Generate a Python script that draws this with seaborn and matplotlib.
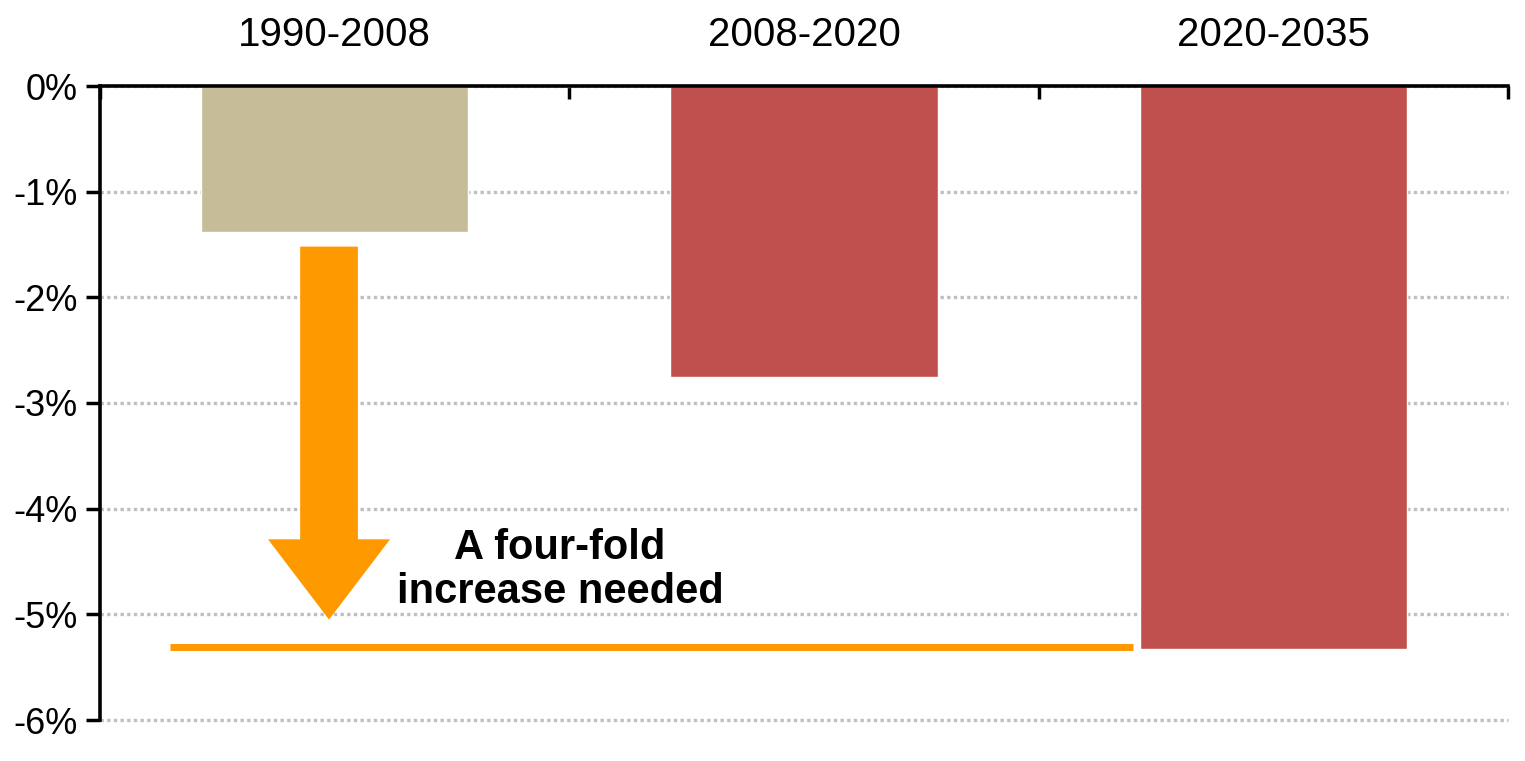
import matplotlib
matplotlib.use("Agg")
import matplotlib.pyplot as plt
import seaborn as sns
import pandas as pd

# chart data
periods = ['1990-2008', '2008-2020', '2020-2035']
decline_rate = [-1.38, -2.75, -5.33]
bar_colors = ['#C4BD97', '#C0504D', '#C0504D']
y_ticks = [0, -1, -2, -3, -4, -5, -6]
y_tick_labels = ['0%', '-1%', '-2%', '-3%', '-4%', '-5%', '-6%']
note_text = 'A four-fold\nincrease needed'

ORANGE = '#FF9900'

sns.set_style('white')
plt.rcParams['font.family'] = ['Liberation Sans', 'DejaVu Sans']
plt.rcParams['text.color'] = 'black'
plt.rcParams['xtick.color'] = 'black'
plt.rcParams['ytick.color'] = 'black'

df = pd.DataFrame({'period': periods, 'rate': decline_rate})

fig = plt.figure(figsize=(15.25, 7.61), dpi=100)
ax = fig.add_axes([100 / 1525, 1 - 720 / 761, 1408 / 1525, 634 / 761])

sns.barplot(data=df, x='period', y='rate', hue='period', palette=bar_colors,
            width=0.57, saturation=1, legend=False, ax=ax)

ax.set_ylim(-6, 0)
ax.set_xlim(-0.5, len(periods) - 0.5)
ax.set_yticks(y_ticks)
ax.set_yticklabels(y_tick_labels, fontsize=26)
ax.set_xlabel('')
ax.set_ylabel('')

# dotted gridlines behind the bars
ax.set_axisbelow(True)
ax.yaxis.grid(True, linestyle=(0, (1.0, 1.0)), color='#BFBFBF', linewidth=2.4)
ax.xaxis.grid(False)
for gl in ax.yaxis.get_gridlines():
    gl.set_clip_on(False)

# category labels on top, boundary ticks pointing in
ax.xaxis.tick_top()
ax.tick_params(axis='x', which='major', length=0, pad=23, labelsize=29,
               top=True, bottom=False, labeltop=True, labelbottom=False)
ax.set_xticks([-0.5, 0.5, 1.5, 2.5], minor=True)
ax.tick_params(axis='x', which='minor', top=True, bottom=False,
               direction='in', length=9, width=2.5, color='black')
ax.tick_params(axis='y', which='major', left=True, direction='out',
               length=10, width=2.5, color='black', pad=6)

for side in ['bottom', 'right']:
    ax.spines[side].set_visible(False)
for side in ['top', 'left']:
    ax.spines[side].set_linewidth(2.6)
    ax.spines[side].set_color('black')

# arrow from the first bar down to the target level
ax.arrow(-0.012, -1.52, 0, -3.53, width=0.123, head_width=0.26, head_length=0.76,
         length_includes_head=True, color=ORANGE, linewidth=0, zorder=3)

# target line at the 2020-2035 level
ax.hlines(decline_rate[2] + 0.02, -0.35, 1.70, color=ORANGE, linewidth=5, zorder=3)

ax.text(0.48, -4.58, note_text, ha='center', va='center', fontsize=30,
        fontweight='bold', linespacing=1.15, color='black')

plt.savefig('out.png', dpi=100)
